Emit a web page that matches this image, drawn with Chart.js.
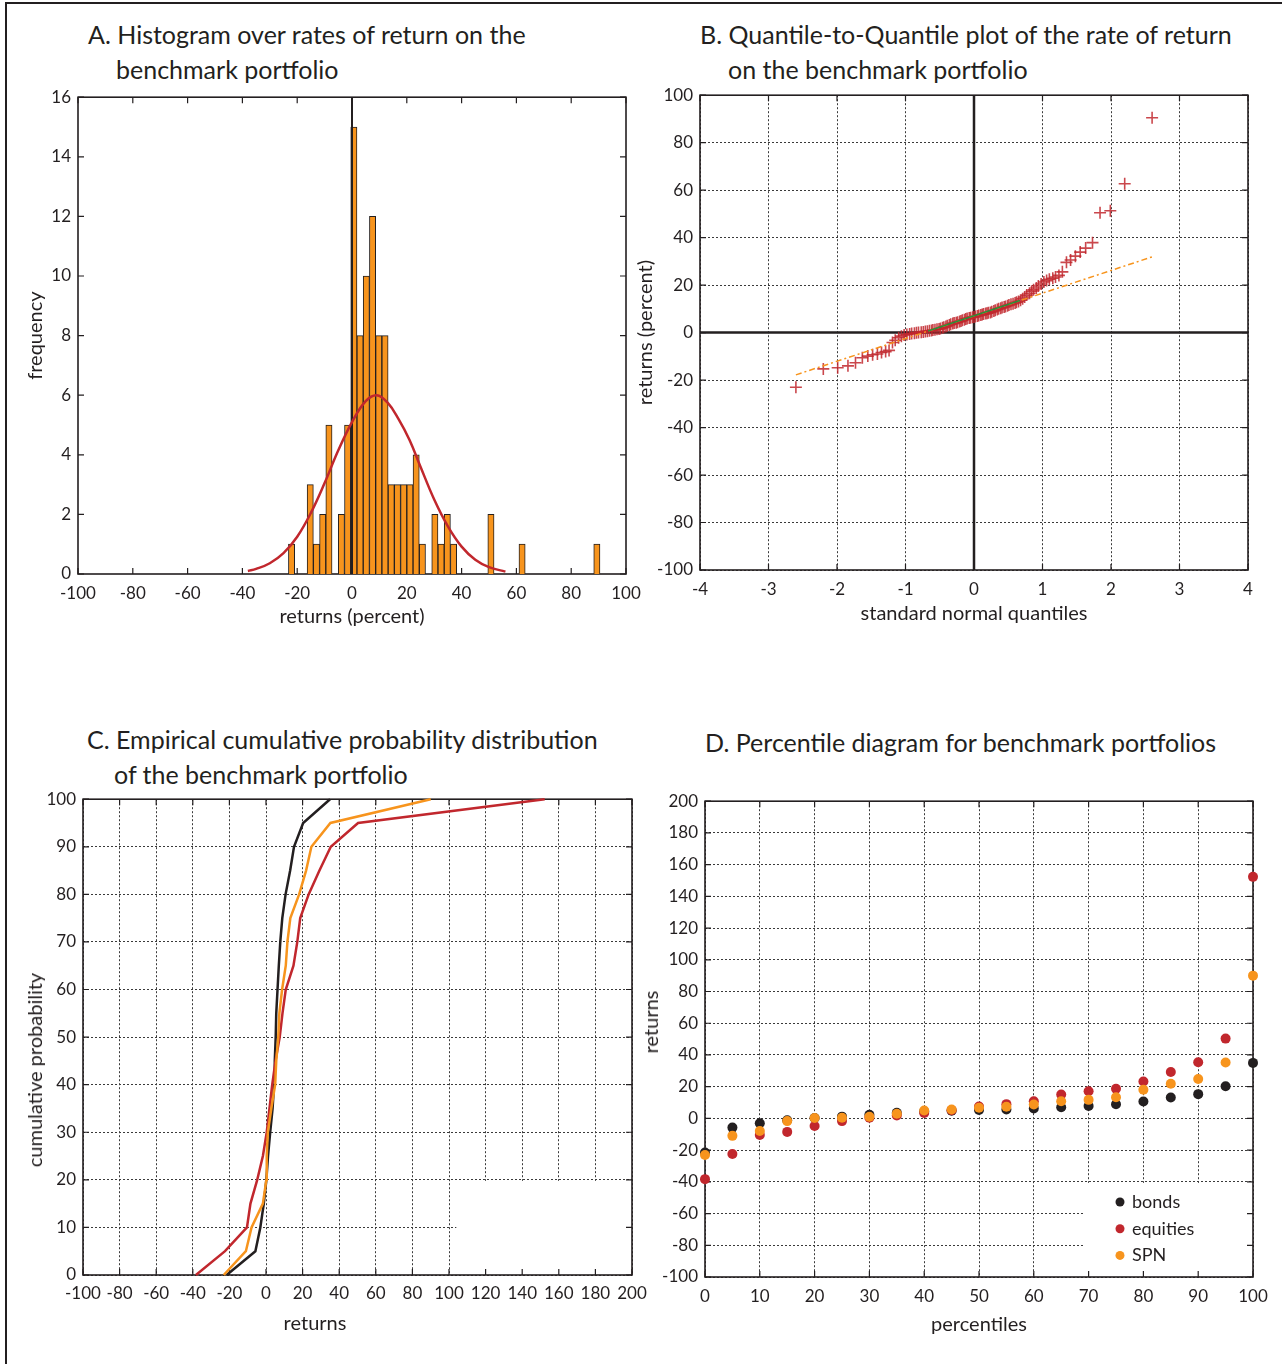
<!DOCTYPE html>
<html>
<head>
<meta charset="utf-8">
<title>Benchmark portfolio returns</title>
<script src="https://cdn.jsdelivr.net/npm/chart.js@4.4.1/dist/chart.umd.min.js"></script>
<style>
  html, body { margin: 0; padding: 0; background: #fff; }
  body { width: 1282px; height: 1364px; position: relative; overflow: hidden;
         font-family: Lato, "Open Sans", sans-serif; color: #231f20; }
  .frame { position: absolute; left: 5px; top: 2px; width: 1400px; height: 1500px;
           border-left: 2.5px solid #231f20; border-top: 2px solid #231f20; }
  .ttl { position: absolute; font-size: 25px; line-height: 1; white-space: nowrap; }
  .lbl { position: absolute; font-size: 20px; line-height: 1; white-space: nowrap;
         transform: translate(-50%, -50%); }
  .lbl.rot { transform: translate(-50%, -50%) rotate(-90deg); }
  .panel { position: absolute; }
  .panel canvas { display: block; }
</style>
</head>
<body>
<div class="frame"></div>

<div class="ttl" style="left:88px; top:22px;">A. Histogram over rates of return on the</div>
<div class="ttl" style="left:116px; top:57px;">benchmark portfolio</div>
<div class="ttl" style="left:700px; top:22px;">B. Quantile-to-Quantile plot of the rate of return</div>
<div class="ttl" style="left:728px; top:57px;">on the benchmark portfolio</div>
<div class="ttl" style="left:87px; top:727px;">C. Empirical cumulative probability distribution</div>
<div class="ttl" style="left:114px; top:762px;">of the benchmark portfolio</div>
<div class="ttl" style="left:705px; top:730px;">D. Percentile diagram for benchmark portfolios</div>

<div class="panel" style="left:24px; top:80px;"><canvas id="histA" width="636" height="549"></canvas></div>
<div class="panel" style="left:634px; top:78px;"><canvas id="qqB" width="646" height="548"></canvas></div>
<div class="panel" style="left:22px; top:782px;"><canvas id="cdfC" width="642" height="552"></canvas></div>
<div class="panel" style="left:638px; top:784px;"><canvas id="pctD" width="644" height="553"></canvas></div>

<!-- axis titles that sit off-centre on their axes -->
<div class="lbl rot" style="left:34px; top:1070px;">cumulative probability</div>
<div class="lbl" style="left:315px; top:1322px;">returns</div>
<div class="lbl rot" style="left:650px; top:1022px;">returns</div>

<script>
// ---------- data ----------
// A: histogram of returns, 50 equal bins from -23.2 (width 2.274)
const BIN_START = -23.2;
const BIN_WIDTH = 2.274;
const binCounts = [1,0,0,3,1,2,5,0,2,5, 15,8,10,12,8,8,3,3,3,3,
                   4,1,0,2,1,2,1,0,0,0, 0,0,2,0,0,0,0,1,0,0,
                   0,0,0,0,0,0,0,0,0,1];
// fitted normal density (scaled to counts)
const fitX = [-38,-35,-30,-25,-20,-15,-10,-5,0,5,9,13,17,21,25,30,35,40,45,50,56];
const fitY = [0.10,0.17,0.36,0.70,1.25,2.05,3.05,4.15,5.10,5.80,6.00,5.75,5.20,4.50,3.60,2.50,1.60,0.92,0.48,0.23,0.08];

// B: normal quantiles vs sorted returns
const qqX = [-2.60,-2.20,-1.99,-1.84,-1.73,-1.63,-1.55,-1.48,-1.41,-1.35,
             -1.29,-1.24,-1.19,-1.15,-1.10,-1.06,-1.02,-0.98,-0.94,-0.91,
             -0.87,-0.84,-0.81,-0.77,-0.74,-0.71,-0.68,-0.65,-0.62,-0.60,
             -0.57,-0.54,-0.51,-0.49,-0.46,-0.44,-0.41,-0.39,-0.36,-0.34,
             -0.31,-0.29,-0.26,-0.24,-0.21,-0.19,-0.17,-0.14,-0.12,-0.10,
             -0.07,-0.05,-0.02,0.00,0.02,0.05,0.07,0.10,0.12,0.14,
             0.17,0.19,0.21,0.24,0.26,0.29,0.31,0.34,0.36,0.39,
             0.41,0.44,0.46,0.49,0.51,0.54,0.57,0.60,0.62,0.65,
             0.68,0.71,0.74,0.77,0.81,0.84,0.87,0.91,0.94,0.98,
             1.02,1.06,1.10,1.15,1.19,1.24,1.29,1.35,1.41,1.48,
             1.55,1.63,1.73,1.84,1.99,2.20,2.60];
const qqY = [-23.0,-15.3,-14.8,-14.0,-12.7,-10.6,-9.9,-9.3,-9.0,-8.4,
             -8.0,-7.5,-4.2,-3.2,-2.2,-1.5,-1.0,-0.8,-0.6,-0.4,
             -0.3,-0.1,0.0,0.2,0.3,0.5,0.6,0.8,0.9,1.1,
             1.2,1.4,1.5,1.7,2.0,2.3,2.6,2.9,3.2,3.5,
             3.8,4.0,4.2,4.4,4.7,4.9,5.2,5.4,5.7,5.9,
             6.1,6.3,6.5,6.6,6.8,7.0,7.2,7.4,7.6,7.8,
             8.0,8.2,8.4,8.5,8.8,9.1,9.4,9.7,10.0,10.3,
             10.6,10.8,11.0,11.3,11.6,11.9,12.2,12.5,12.8,13.1,
             13.6,14.3,15.0,15.8,16.6,17.4,18.0,18.8,19.6,20.5,
             21.3,21.9,22.5,22.9,23.4,24.1,25.6,29.6,30.6,32.2,
             33.9,35.6,37.9,50.5,51.3,62.7,90.5];
// reference line through the quartiles, and its extension
const refX = [-2.6, 2.6];
const refY = [-17.8, 31.9];
const iqrX = [-0.67, 0.67];
const iqrY = [0.7, 13.5];

// C + D: return percentiles per portfolio
const percentiles = [0,5,10,15,20,25,30,35,40,45,50,55,60,65,70,75,80,85,90,95,100];
const bonds    = [-21.5,-5.8,-3.1,-1.2,0.2,1.1,2.3,3.6,4.4,4.8,5.3,5.6,6.3,7.0,7.8,8.9,10.7,13.2,15.3,20.3,35.0];
const equities = [-38.3,-22.4,-10.4,-8.5,-4.8,-1.7,0.4,1.9,3.4,5.2,7.5,9.0,10.8,15.0,17.1,18.7,23.3,29.2,35.4,50.3,152.3];
const spn      = [-23.1,-11.0,-7.9,-1.7,0.2,0.4,1.0,2.9,5.0,5.6,6.7,7.3,8.8,10.8,11.7,13.3,18.1,21.9,24.8,35.2,90.0];

// ---------- styling ----------
const INK = '#231f20', RED = '#c1272d', ORANGE = '#f7941d', GREEN = '#2a8c3c';
const FONT = 'Lato';
const tickFont = { family: FONT, size: 17 };
const titleFont = { family: FONT, size: 20 };

Chart.defaults.animation = false;
Chart.defaults.color = INK;

// matlab-like axes box: inward ticks on all sides, optional zero lines,
// a blanked corner under the (empty) legend area, and an in-plot legend
const matlabFrame = {
  id: 'matlabFrame',
  beforeDatasetsDraw(chart, args, o) {
    const { ctx, chartArea: a, scales: { x, y } } = chart;
    ctx.save();
    if (o.blank) {
      const bx = x.getPixelForValue(o.blank.x);
      const by = y.getPixelForValue(o.blank.y);
      ctx.fillStyle = '#fff';
      ctx.fillRect(bx, by + 1, a.right - bx - 1, a.bottom - by - 2);
    }
    if (o.zeroLines) {
      const zx = x.getPixelForValue(0), zy = y.getPixelForValue(0);
      ctx.strokeStyle = INK;
      ctx.lineWidth = 2.5;
      ctx.beginPath();
      ctx.moveTo(zx, a.top); ctx.lineTo(zx, a.bottom);
      ctx.moveTo(a.left, zy); ctx.lineTo(a.right, zy);
      ctx.stroke();
    }
    ctx.strokeStyle = INK;
    ctx.lineWidth = 1.2;
    ctx.beginPath();
    x.ticks.forEach(t => {
      const px = x.getPixelForValue(t.value);
      ctx.moveTo(px, a.bottom); ctx.lineTo(px, a.bottom - 6);
      ctx.moveTo(px, a.top); ctx.lineTo(px, a.top + 6);
    });
    y.ticks.forEach(t => {
      const py = y.getPixelForValue(t.value);
      ctx.moveTo(a.left, py); ctx.lineTo(a.left + 6, py);
      ctx.moveTo(a.right, py); ctx.lineTo(a.right - 6, py);
    });
    ctx.stroke();
    ctx.lineWidth = 1.6;
    ctx.strokeRect(a.left, a.top, a.width, a.height);
    ctx.restore();
  },
  afterDatasetsDraw(chart, args, o) {
    if (!o.legend) return;
    const { ctx, chartArea: a } = chart;
    ctx.save();
    ctx.font = '18px ' + FONT;
    ctx.textBaseline = 'middle';
    o.legend.forEach((it, k) => {
      const cx = a.right - 133, cy = a.bottom - 75 + k * 26.7;
      ctx.fillStyle = it.color;
      ctx.beginPath(); ctx.arc(cx, cy, 4.5, 0, Math.PI * 2); ctx.fill();
      ctx.fillStyle = INK;
      ctx.fillText(it.label, cx + 12, cy);
    });
    ctx.restore();
  }
};
Chart.register(matlabFrame);

// one axis definition; width/height fixed so every plot box lands in place
function axis(min, max, step, label, size, withGrid) {
  return {
    type: 'linear', min, max, offset: false,
    ticks: { stepSize: step, font: tickFont, color: INK, autoSkip: false, maxRotation: 0, padding: 7 },
    grid: { display: withGrid, color: '#3a3a3a', lineWidth: 1, drawTicks: false },
    border: { display: false, dash: [2, 2] },
    title: { display: !!label, text: label, font: titleFont, color: INK, padding: 0 },
    afterFit(scale) { if (scale.isHorizontal()) scale.height = size; else scale.width = size; }
  };
}
function baseOptions(pad, xAxis, yAxis, frame) {
  return {
    responsive: false,
    layout: { padding: { top: pad.top, right: pad.right, left: 0, bottom: 0 } },
    plugins: { legend: { display: false }, tooltip: { enabled: false }, matlabFrame: frame || {} },
    scales: { x: xAxis, y: yAxis }
  };
}

// ---------- A. histogram ----------
const binCenters = binCounts.map((_, i) => BIN_START + BIN_WIDTH * (i + 0.5));
const xA = axis(-100, 100, 20, 'returns (percent)', 55, false);
xA.ticks.padding = 9;
new Chart(document.getElementById('histA'), {
  type: 'bar',
  data: {
    datasets: [
      { type: 'line', data: fitX.map((v, i) => ({ x: v, y: fitY[i] })), borderColor: RED,
        borderWidth: 2.5, pointRadius: 0, tension: 0.4, order: 0 },
      { type: 'line', data: [{ x: 0, y: 0 }, { x: 0, y: 16 }], borderColor: INK,
        borderWidth: 2, pointRadius: 0, order: 1 },
      { type: 'bar', data: binCenters.map((c, i) => ({ x: c, y: binCounts[i] })),
        backgroundColor: ORANGE, borderColor: INK, borderWidth: 1,
        barPercentage: 1, categoryPercentage: 1, order: 2 }
    ]
  },
  options: baseOptions({ top: 16, right: 34 }, xA,
    axis(0, 16, 2, 'frequency', 54, false))
});

// ---------- B. quantile-quantile plot ----------
const xB = axis(-4, 4, 1, 'standard normal quantiles', 56, true);
xB.ticks.padding = 9;
new Chart(document.getElementById('qqB'), {
  type: 'scatter',
  data: {
    datasets: [
      { type: 'line', data: iqrX.map((v, i) => ({ x: v, y: iqrY[i] })), borderColor: GREEN,
        borderWidth: 1.5, pointRadius: 0, order: 0 },
      { type: 'line', data: refX.map((v, i) => ({ x: v, y: refY[i] })), borderColor: ORANGE,
        borderWidth: 1.5, borderDash: [6, 3, 2, 3], pointRadius: 0, order: 1 },
      { data: qqX.map((v, i) => ({ x: v, y: qqY[i] })), pointStyle: 'cross', pointRadius: 6,
        borderColor: 'rgba(193,39,45,0.85)', borderWidth: 1.6, order: 2 }
    ]
  },
  options: baseOptions({ top: 16, right: 32 }, xB,
    axis(-100, 100, 20, 'returns (percent)', 66, true), { zeroLines: true })
});

// ---------- C. empirical cumulative distribution ----------
const xC = axis(-100, 200, 20, '', 59, true);
xC.ticks.padding = 8;
const cdfLine = (vals, color, order) => ({
  data: vals.map((v, i) => ({ x: v, y: percentiles[i] })), borderColor: color,
  borderWidth: 2.5, pointRadius: 0, clip: false, order
});
new Chart(document.getElementById('cdfC'), {
  type: 'line',
  data: { datasets: [cdfLine(spn, ORANGE, 0), cdfLine(equities, RED, 1), cdfLine(bonds, INK, 2)] },
  options: baseOptions({ top: 16, right: 32 }, xC,
    axis(0, 100, 10, '', 61, true), { blank: { x: 104, y: 20 } })
});

// ---------- D. percentile diagram ----------
const xD = axis(0, 100, 10, 'percentiles', 60, true);
xD.ticks.padding = 9;
const pctDots = (vals, color, order) => ({
  data: vals.map((v, i) => ({ x: percentiles[i], y: v })), backgroundColor: color,
  borderWidth: 0, pointRadius: 5, clip: false, order
});
new Chart(document.getElementById('pctD'), {
  type: 'scatter',
  data: { datasets: [pctDots(spn, ORANGE, 0), pctDots(equities, RED, 1), pctDots(bonds, INK, 2)] },
  options: baseOptions({ top: 16, right: 29 }, xD,
    axis(-100, 200, 20, '', 67, true), {
      blank: { x: 69.2, y: -40 },
      legend: [{ label: 'bonds', color: INK }, { label: 'equities', color: RED }, { label: 'SPN', color: ORANGE }]
    })
});
</script>
</body>
</html>
